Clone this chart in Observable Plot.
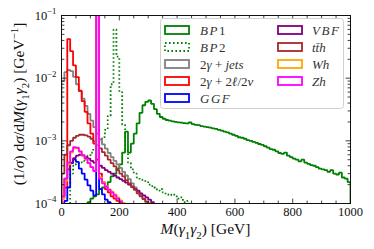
<!DOCTYPE html>
<html><head><meta charset="utf-8">
<script src="https://cdn.jsdelivr.net/npm/d3@7"></script>
<script src="https://cdn.jsdelivr.net/npm/@observablehq/plot@0.6"></script>
<style>
body{margin:0;background:#fff;}
#chart{width:374px;height:249px;}
</style></head><body><div id="chart"></div>
<script>
// ---------- data ----------
const binWidth = 10; // GeV

const bp1Start = 90;
const bp1 = [1.05e-4,1.2e-4,1.3e-4,1.4e-4,1.7e-4,1.8e-4,1.9e-4,2.2e-4,2.7e-4,3.0e-4,
  3.6e-4,4.2e-4,6.5e-4,1.4e-3,6.5e-4,9e-4,1.3e-3,1.9e-3,2.8e-3,3.7e-3,
  4.2e-3,4.4e-3,3.9e-3,3.2e-3,2.7e-3,2.4e-3,2.25e-3,2.15e-3,2.1e-3,2.05e-3,
  2.0e-3,
  1.97e-3,1.95e-3,1.92e-3,1.90e-3,1.96e-3,1.85e-3,1.80e-3,1.78e-3,1.72e-3,1.68e-3,
  1.66e-3,1.62e-3,1.58e-3,1.55e-3,1.50e-3,1.45e-3,1.40e-3,1.36e-3,1.30e-3,1.25e-3,
  1.20e-3,1.14e-3,1.12e-3,1.08e-3,1.03e-3,1.0e-3,9.6e-4,9.3e-4,8.9e-4,8.6e-4,
  8.2e-4,7.8e-4,7.4e-4,7.2e-4,6.8e-4,6.4e-4,6.2e-4,6.5e-4,5.8e-4,5.5e-4,
  5.2e-4,5.0e-4,4.7e-4,5.0e-4,4.5e-4,4.3e-4,4.1e-4,4.0e-4,3.8e-4,3.6e-4,
  3.5e-4,3.4e-4,3.2e-4,3.4e-4,3.0e-4,2.9e-4,3.1e-4,2.6e-4,2.5e-4,2.2e-4];

const bp2Start = 30;
const bp2 = [3e-4,4e-4,4.3e-4,4.5e-4,4.8e-4,5.3e-4,5.8e-4,6.5e-4,7.5e-4,8.5e-4,
  9.5e-4,1.15e-3,1.5e-3,2.5e-3,8e-3,6e-2,2.2e-2,6e-3,1.8e-3,7e-4,
  4.5e-4,3.5e-4,3e-4,2.6e-4,2.4e-4,2.3e-4,2.2e-4,2.0e-4,1.9e-4,1.8e-4,
  1.6e-4,1.7e-4,1.5e-4,1.4e-4,1.35e-4,1.4e-4,1.3e-4,1.2e-4,1.25e-4,1.05e-4,1.1e-4];

const jetsStart = 0;
const jets = [9e-3,1.25e-2,1.35e-2,1.3e-2,1.05e-2,8e-3,6.2e-3,4.7e-3,3.6e-3,2.7e-3,
  2.1e-3,1.65e-3,1.3e-3,1.05e-3,8.8e-4,7.5e-4,6.4e-4,5.5e-4,4.8e-4,4.2e-4,
  3.7e-4,3.2e-4,2.8e-4,2.45e-4,2.1e-4,1.8e-4,1.55e-4,1.35e-4,1.18e-4,1.05e-4];

const leptStart = 0;
const lept = [1.2e-4,1.8e-4,4.2e-2,2.7e-2,1.6e-2,1.04e-2,6.3e-3,4.3e-3,2.9e-3,1.9e-3,
  1.3e-3,9e-4,5e-4,3e-4,2.2e-4,1.7e-4,1.5e-4,1.3e-4,1.2e-4,1.1e-4,1.05e-4];

const ggfStart = 10;
const ggf = [1.1e-4,1.8e-4,4.4e-4,5e-4,4.6e-4,3.6e-4,3e-4,2.4e-4,1.95e-4,1.6e-4,
  1.35e-4,0.3,1.7e-4,1.4e-4,1.15e-4,1.05e-4];

const vbfStart = 0;
const vbf = [1.3e-4,2.5e-4,3.5e-4,4.5e-4,5.3e-4,5.8e-4,6e-4,5.8e-4,5.5e-4,5.2e-4,
  4.8e-4,4.5e-4,0.3,4.0e-4,3.7e-4,3.4e-4,3.2e-4,3.0e-4,2.8e-4,2.6e-4,
  2.45e-4,2.3e-4,2.15e-4,2.0e-4,1.85e-4,1.7e-4,1.6e-4,1.45e-4,1.35e-4,1.25e-4,
  1.15e-4,1.05e-4];

const tthStart = 0;
const tth = [3e-4,6e-4,8.5e-4,1.0e-3,1.12e-3,1.2e-3,1.25e-3,1.25e-3,1.22e-3,1.17e-3,
  1.08e-3,9.8e-4,0.3,7.6e-4,6.6e-4,5.8e-4,5.0e-4,4.4e-4,3.9e-4,3.4e-4,
  3.0e-4,2.7e-4,2.35e-4,2.1e-4,1.85e-4,1.65e-4,1.45e-4,1.3e-4,1.18e-4,1.07e-4,1.0e-4];

const whStart = 0;
const wh = [1.2e-4,2.3e-4,4.2e-4,6.5e-4,7.6e-4,7.6e-4,6.7e-4,5.8e-4,5.1e-4,4.4e-4,
  3.8e-4,3.3e-4,0.3,2.6e-4,2.2e-4,1.9e-4,1.7e-4,1.55e-4,1.4e-4,1.25e-4,1.12e-4,1.02e-4];

const zhStart = 0;
const zh = [1.3e-4,2.5e-4,4.5e-4,6.8e-4,7.9e-4,7.8e-4,6.8e-4,5.9e-4,5.2e-4,4.4e-4,
  3.8e-4,3.3e-4,0.3,2.5e-4,2.1e-4,1.85e-4,1.65e-4,1.5e-4,1.35e-4,1.2e-4,1.08e-4];

const seriesNames = ["BP1","BP2","2γ + jets","2γ + 2ℓ/2ν","GGF","VBF","tt̄h","Wh","Zh"];
const seriesColors = ["#008000","#008000","#808080","#ff0000","#0000ff","#800080","#a52a2a","#ffa500","#ff00ff"];
const seriesDash = [null,"1.6,2.4",null,null,null,null,null,null,null];

const xMajor = [0,200,400,600,800,1000];
const xMinor = [50,100,150,250,300,350,450,500,550,650,700,750,850,900,950];
const yMajor = [1e-4,1e-3,1e-2,1e-1];
const yMinor = [2e-4,3e-4,4e-4,5e-4,6e-4,7e-4,8e-4,9e-4,
  2e-3,3e-3,4e-3,5e-3,6e-3,7e-3,8e-3,9e-3,
  2e-2,3e-2,4e-2,5e-2,6e-2,7e-2,8e-2,9e-2];

const yLabelRuns = [["(1/"],["σ","i"],[") d"],["σ","i"],["/d"],["M","i"],["("],["γ","i"],["1","sub"],["γ","i"],["2","sub"],[") [GeV"],["−1","sup"],["]"]];
const xLabelRuns = [["M","i"],["("],["γ","i"],["1","sub"],["γ","i"],["2","sub"],[") [GeV]"]];

// ---------- build step outlines ----------
const floorVal = 1e-7;
function stepPoints(start, vals, name) {
  const pts = [{x: start, y: floorVal, s: name}];
  vals.forEach((v, i) => {
    pts.push({x: start + i*binWidth, y: v, s: name});
    pts.push({x: start + (i+1)*binWidth, y: v, s: name});
  });
  pts.push({x: start + vals.length*binWidth, y: floorVal, s: name});
  return pts;
}
const seriesData = [
  stepPoints(bp1Start, bp1, seriesNames[0]),
  stepPoints(bp2Start, bp2, seriesNames[1]),
  stepPoints(jetsStart, jets, seriesNames[2]),
  stepPoints(leptStart, lept, seriesNames[3]),
  stepPoints(ggfStart, ggf, seriesNames[4]),
  stepPoints(vbfStart, vbf, seriesNames[5]),
  stepPoints(tthStart, tth, seriesNames[6]),
  stepPoints(whStart, wh, seriesNames[7]),
  stepPoints(zhStart, zh, seriesNames[8])
];

const tickShape = {draw(ctx, l) { ctx.moveTo(0, 0); ctx.lineTo(0, -l); }};
const tickMarks = (vals, opts, len) => Plot.vector(vals, {...opts, length: len, anchor: "start", shape: tickShape, stroke: "#111", strokeWidth: 0.8});

const lineMarks = seriesData.map((d, i) => Plot.line(d, {
  x: "x", y: "y", stroke: seriesColors[i], strokeWidth: 1.8,
  strokeDasharray: seriesDash[i] || undefined,
  strokeLinejoin: "miter", strokeLinecap: "butt", clip: true
}));

const chart = Plot.plot({
  width: 374, height: 249,
  marginLeft: 61, marginRight: 24, marginTop: 15, marginBottom: 46,
  style: {fontFamily: "'Liberation Serif', serif", fontSize: "12.5px", color: "#111", background: "white"},
  x: {domain: [0, 1000]},
  y: {type: "log", domain: [1e-4, 1e-1]},
  marks: [
    ...lineMarks,
    Plot.frame({stroke: "#111", strokeWidth: 1}),
    Plot.axisX({ticks: xMajor, tickSize: 0, tickPadding: 4, tickFormat: d => String(d), label: null}),
    Plot.axisY({ticks: yMajor, tickSize: 0, tickPadding: 5, tickFormat: d => String(Math.round(Math.log10(d))), label: null}),
    tickMarks(xMajor, {x: d => d, frameAnchor: "bottom", rotate: 0}, 4.5),
    tickMarks(xMinor, {x: d => d, frameAnchor: "bottom", rotate: 0}, 2.5),
    tickMarks(xMajor, {x: d => d, frameAnchor: "top", rotate: 180}, 4.5),
    tickMarks(xMinor, {x: d => d, frameAnchor: "top", rotate: 180}, 2.5),
    tickMarks(yMajor, {y: d => d, frameAnchor: "left", rotate: 90}, 4.5),
    tickMarks(yMinor, {y: d => d, frameAnchor: "left", rotate: 90}, 2.5),
    tickMarks(yMajor, {y: d => d, frameAnchor: "right", rotate: -90}, 4.5),
    tickMarks(yMinor, {y: d => d, frameAnchor: "right", rotate: -90}, 2.5)
  ]
});
document.getElementById("chart").appendChild(chart);

// ---------- text helpers ----------
function addRuns(textSel, runs, fs, capSpacing) {
  let shift = 0;
  for (const [t, kind] of runs) {
    const target = kind === "sub" ? fs*0.3 : kind === "sup" ? -fs*0.42 : 0;
    const ts = textSel.append("tspan").text(t);
    if (target !== shift) { ts.attr("dy", target - shift); shift = target; }
    if (kind === "i") ts.attr("font-style", "italic");
    if (kind === "i" && capSpacing && /^[A-Z]+\d*$/.test(t)) ts.attr("letter-spacing", capSpacing);
    if (kind === "sub" || kind === "sup") ts.attr("font-size", fs*0.7);
  }
}
const svg = d3.select(chart);

// y tick labels as 10^n
svg.selectAll('g[aria-label="y-axis tick label"] text').each(function() {
  const el = d3.select(this);
  const n = el.text();
  el.text("");
  addRuns(el, [["10"], [n.replace("-", "−"), "sup"]], 12.5);
});

// axis titles
const fsY = 15.5, fsX = 15.5;
const yl = svg.append("text")
  .attr("transform", "translate(24,104) rotate(-90)")
  .attr("text-anchor", "middle")
  .attr("font-size", fsY).attr("fill", "#111");
addRuns(yl, yLabelRuns, fsY);
const xl = svg.append("text")
  .attr("x", 205.5).attr("y", 234)
  .attr("text-anchor", "middle")
  .attr("font-size", fsX).attr("fill", "#111");
addRuns(xl, xLabelRuns, fsX);

// legend
const lg = svg.append("g");
lg.append("rect").attr("x", 160.5).attr("y", 18.5).attr("width", 183).attr("height", 90)
  .attr("rx", 3).attr("fill", "white").attr("fill-opacity", 0.85).attr("stroke", "#d0d0d0");
const cols = [{sx: 165, tx: 200, items: [0,1,2,3,4]}, {sx: 278, tx: 312, items: [5,6,7,8]}];
const rowY = [30, 47, 64, 81, 98];
const fsL = 13;
cols.forEach(c => c.items.forEach((k, r) => {
  lg.append("rect").attr("x", c.sx).attr("y", rowY[r] - 4).attr("width", 24).attr("height", 8)
    .attr("fill", "none").attr("stroke", seriesColors[k]).attr("stroke-width", 1.8)
    .attr("stroke-dasharray", seriesDash[k]);
  const t = lg.append("text").attr("x", c.tx).attr("y", rowY[r] + 4.5)
    .attr("text-anchor", "start")
    .attr("font-size", fsL).attr("fill", "#333");
  const runs = seriesNames[k].split(/([A-Za-zα-ωℓ\u0304]+)/).filter(s => s.length)
    .map(s => /[A-Za-zα-ωℓ]/.test(s) ? [s, "i"] : [s]);
  addRuns(t, runs, fsL, 1.5);
}));
</script>
</body></html>
